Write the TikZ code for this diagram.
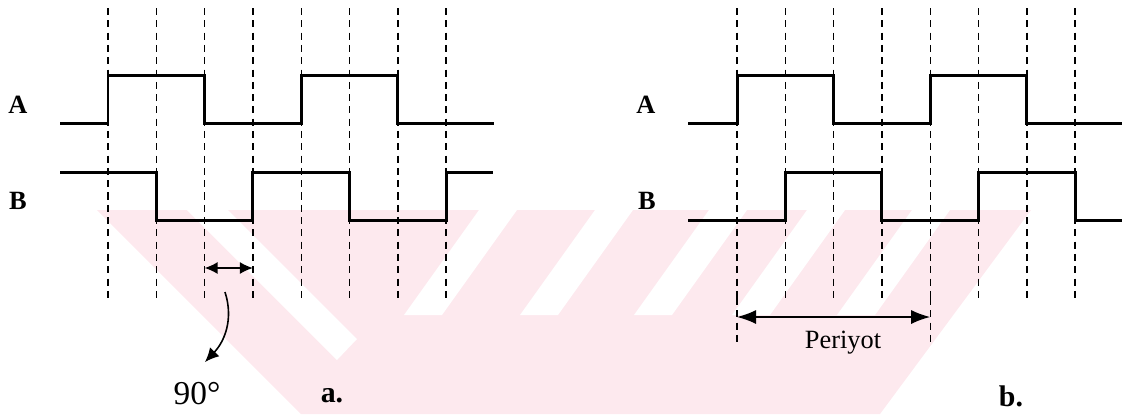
\documentclass[tikz,border=0pt]{standalone}
\usepackage{fontspec}
\setmainfont{Liberation Serif}
\usetikzlibrary{arrows.meta}

\definecolor{wmpink}{RGB}{253,233,238}

\tikzset{
  grid/.style={dash pattern=on 4pt off 3pt, line width=0.8pt},
  signal/.style={line width=1.7pt, line join=miter},
  lbl/.style={font=\fontsize{15}{15}\selectfont\bfseries},
  small arrow/.style={line width=0.9pt, {Latex[length=0.26cm,width=0.24cm]}-{Latex[length=0.26cm,width=0.24cm]}},
  big arrow/.style={line width=0.9pt, {Latex[length=0.38cm,width=0.28cm]}-{Latex[length=0.38cm,width=0.28cm]}}
}

\begin{document}
\begin{tikzpicture}[x=0.02cm, y=-0.02cm]

	\useasboundingbox (0,0) rectangle (1122,414);

	% watermark
	\begin{scope}
		\clip (0,210) rectangle (1122,414);
		\fill[wmpink] (97,210) -- (1031,210) -- (880,414) -- (301,414) -- cycle;
		\fill[white] (187,210) -- (228,210) -- (357,339) -- (337,360) -- cycle;
		\foreach \s in {517,633,747,845,950}
			\fill[white] (\s,210) -- (\s-38,210) -- (\s-38-75,315) -- (\s-75,315) -- cycle;
	\end{scope}

	% dashed guides
	\foreach \i in {0,...,7} {
		\draw[grid] (108+48.3*\i,8) -- (108+48.3*\i,298);
		\draw[grid] (737+48.3*\i,8) -- (737+48.3*\i,298);
	}
	\draw[grid] (737,298) -- (737,347);
	\draw[grid] (930.2,298) -- (930.2,347);

	% left: a.
	\node[lbl] (la) at (18,105) {A};
	\node[lbl] (lb) at (18,201) {B};
	\draw[signal] (60,123) -- (108,123) -- (108,75) -- (204.6,75) -- (204.6,123)
		-- (301.2,123) -- (301.2,75) -- (397.8,75) -- (397.8,123) -- (494,123);
	\draw[signal] (60,172) -- (156.3,172) -- (156.3,220) -- (252.9,220) -- (252.9,172)
		-- (349.5,172) -- (349.5,220) -- (446.1,220) -- (446.1,172) -- (493,172);

	\coordinate (p1) at (204.6,268);
	\coordinate (p2) at (252.9,268);
	\draw[small arrow] (p1) -- (p2);

	\coordinate (c1) at (225,292);
	\coordinate (c2) at (205,362);
	\node[font=\fontsize{19}{19}\selectfont] (deg) at (197,394) {90°};
	\draw[line width=0.9pt, -{Latex[length=0.28cm,width=0.26cm]}] (c1) .. controls (234,320) and (224,342) .. (c2);

	\node[font=\fontsize{17}{17}\selectfont\bfseries] (ta) at (332,396) {a.};

	% right: b.
	\node[lbl] (ra) at (646,105) {A};
	\node[lbl] (rb) at (647,201) {B};
	\draw[signal] (688,123) -- (737,123) -- (737,75) -- (833.6,75) -- (833.6,123)
		-- (930.2,123) -- (930.2,75) -- (1026.8,75) -- (1026.8,123) -- (1122,123);
	\draw[signal] (688,220) -- (785.3,220) -- (785.3,172) -- (881.9,172) -- (881.9,220)
		-- (978.5,220) -- (978.5,172) -- (1075.1,172) -- (1075.1,220) -- (1122,220);

	\coordinate (q1) at (737,317);
	\coordinate (q2) at (930.2,317);
	\draw[big arrow] (q1) -- (q2);
	\node[font=\fontsize{15}{15}\selectfont] (per) at (843,343) {Periyot};

	\node[font=\fontsize{17}{17}\selectfont\bfseries] (tb) at (1011,396) {b.};

\end{tikzpicture}
\end{document}
